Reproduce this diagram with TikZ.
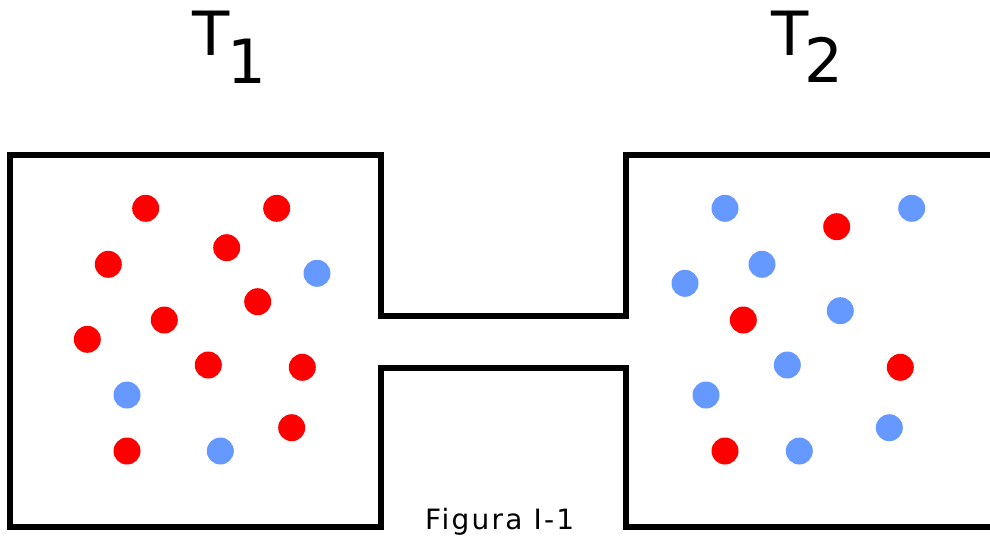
\documentclass[tikz,border=0pt]{standalone}
\usepackage{fontspec}
\setmainfont{DejaVu Sans}
\definecolor{hot}{HTML}{FF0000}
\definecolor{cold}{HTML}{6699FF}
\begin{document}
\begin{tikzpicture}[x=1pt,y=-1pt,
  wall/.style={line width=5.5pt, line join=miter},
  hotp/.style={circle, fill=hot, inner sep=0pt, minimum size=27pt},
  coldp/.style={circle, fill=cold, inner sep=0pt, minimum size=27pt},
  txt/.style={inner sep=0pt, anchor=base west}]
\useasboundingbox (0,0) rectangle (990,538);
% two chambers joined by a narrow channel
\draw[wall] (1010,155) -- (626,155) -- (626,316) -- (381,316) -- (381,155)
  -- (10,155) -- (10,527) -- (381,527) -- (381,368) -- (626,368)
  -- (626,527) -- (1010,527);
% left chamber
\node[hotp]  (l1)  at (145.7,208.3) {};
\node[hotp]  (l2)  at (276.7,208.3) {};
\node[hotp]  (l3)  at (226.7,247.7) {};
\node[hotp]  (l4)  at (108.3,264.3) {};
\node[coldp] (l5)  at (317,273.3) {};
\node[hotp]  (l6)  at (257.7,301.7) {};
\node[hotp]  (l7)  at (164.3,320) {};
\node[hotp]  (l8)  at (87.3,339.3) {};
\node[hotp]  (l9)  at (208.3,365) {};
\node[hotp]  (l10) at (302.3,367.3) {};
\node[coldp] (l11) at (127,395) {};
\node[hotp]  (l12) at (291.7,427.7) {};
\node[hotp]  (l13) at (127,451) {};
\node[coldp] (l14) at (220.3,451) {};
% right chamber
\node[coldp] (r1)  at (725,208.3) {};
\node[coldp] (r2)  at (911.7,208.3) {};
\node[hotp]  (r3)  at (836.7,226.7) {};
\node[coldp] (r4)  at (762,264.3) {};
\node[coldp] (r5)  at (685,283.3) {};
\node[coldp] (r6)  at (840.3,310.7) {};
\node[hotp]  (r7)  at (743.3,320) {};
\node[coldp] (r8)  at (787.3,365) {};
\node[hotp]  (r9)  at (900.3,367.3) {};
\node[coldp] (r10) at (706,395) {};
\node[coldp] (r11) at (889.3,427.7) {};
\node[hotp]  (r12) at (725,451) {};
\node[coldp] (r13) at (799.3,451) {};
% labels
\node[txt, font=\fontsize{61}{61}\selectfont] (t1) at (192,55.5) {T\kern-1.5pt\raisebox{-27.5pt}{1}};
\node[txt, font=\fontsize{61}{61}\selectfont] (t2) at (771,55.3) {T\kern-3.5pt\raisebox{-27.5pt}{2}};
\node[txt, font=\fontsize{28}{28}\selectfont\addfontfeatures{LetterSpace=8}] (cap) at (425,529.3) {Figura I-1};
\end{tikzpicture}
\end{document}
